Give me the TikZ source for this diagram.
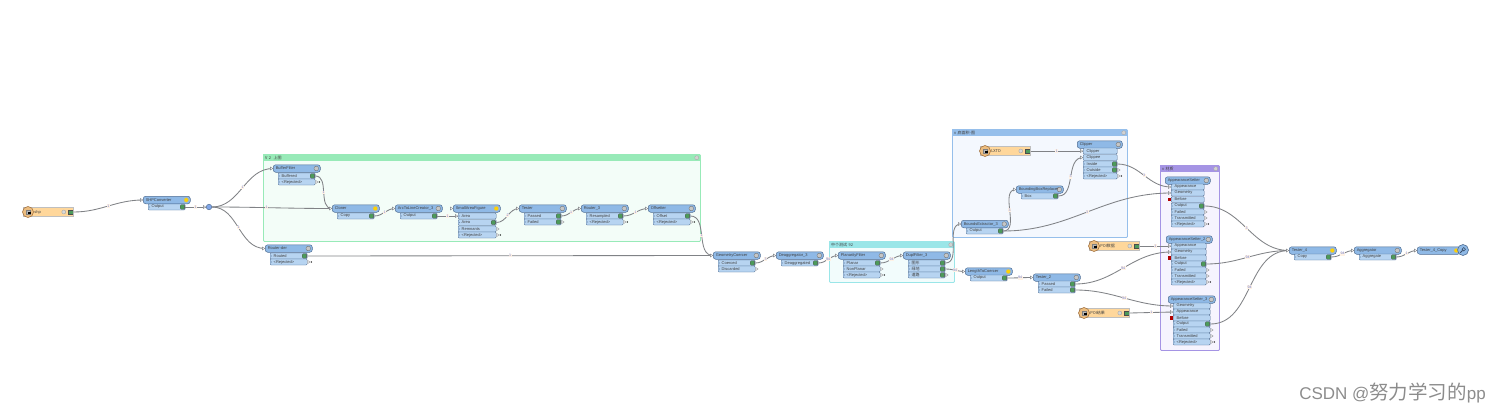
\documentclass[tikz,border=0pt]{standalone}
\usepackage{fontspec}
\setmainfont{Liberation Sans}
\newfontfamily\cjk{Noto Sans CJK SC}
\usetikzlibrary{positioning,calc}

\definecolor{headblue}{HTML}{8FB9E6}
\definecolor{rowblue}{HTML}{B7D4F1}
\definecolor{edgeblue}{HTML}{4F6D92}
\definecolor{readerfill}{HTML}{FFD79B}
\definecolor{wiregray}{HTML}{808286}
\definecolor{portgreen}{HTML}{4C9A5B}
\definecolor{countblue}{HTML}{6F80D0}
\definecolor{greenhd}{HTML}{98EAB8}
\definecolor{greenbg}{HTML}{F3FDF8}
\definecolor{bluehd}{HTML}{96BFEB}
\definecolor{bluebg}{HTML}{F4F8FE}
\definecolor{cyanhd}{HTML}{9AE6E8}
\definecolor{cyanbg}{HTML}{F2FCFC}
\definecolor{purplehd}{HTML}{A594E4}
\definecolor{purplebg}{HTML}{F6F4FE}

\begin{document}
\begin{tikzpicture}[
    x=1pt,
    y=-1pt,
    font=\fontsize{4}{4.5}\selectfont,
    text=black!75,
    head/.style={
        draw=edgeblue,
        fill=headblue,
        line width=0.5pt,
        rounded corners=2.5pt,
        anchor=west,
        minimum height=7.5pt,
        inner ysep=0pt,
        inner xsep=2.5pt,
        text width=42pt,
        align=left,
        path picture={
            \filldraw[draw=gray!80!black, fill=gray!45, line width=0.3pt]
                ([xshift=-4pt]path picture bounding box.east) circle (2.3pt);
        }
    },
    headwarn/.style={
        head,
        path picture={
            \filldraw[draw=gray!60, fill=yellow!70!orange, line width=0.3pt]
                ([xshift=-4pt]path picture bounding box.east) circle (2.3pt);
        }
    },
    port/.style={
        draw=edgeblue,
        fill=rowblue,
        line width=0.4pt,
        rounded corners=1pt,
        anchor=west,
        minimum height=6pt,
        inner ysep=0pt,
        inner xsep=3.5pt,
        text width=30pt,
        align=left,
        path picture={
            \fill[edgeblue] ([xshift=1pt,yshift=1pt]path picture bounding box.west)
                -- ++(1.5pt,-1pt) -- ++(-1.5pt,-1pt) -- cycle;
        }
    },
    inport/.style={port, path picture={}},
    outport/.style={
        port,
        path picture={
            \fill[edgeblue] ([xshift=1pt,yshift=1pt]path picture bounding box.west)
                -- ++(1.5pt,-1pt) -- ++(-1.5pt,-1pt) -- cycle;
            \filldraw[draw=black!70, fill=portgreen, line width=0.3pt]
                ([xshift=-5pt,yshift=-2.2pt]path picture bounding box.east)
                rectangle ++(4.4pt,4.4pt);
        }
    },
    reader/.style={
        draw=gray!50,
        fill=readerfill,
        line width=0.6pt,
        anchor=west,
        minimum height=8.5pt,
        inner sep=0pt,
        text width=50pt,
        align=left,
        execute at begin node=\hspace*{11pt},
        path picture={
            \filldraw[draw=gray!80, fill=gray!30, line width=0.3pt]
                ([xshift=-9.5pt]path picture bounding box.east) circle (2pt);
            \filldraw[draw=black!70, fill=portgreen, line width=0.3pt]
                ([xshift=-5pt,yshift=-2.2pt]path picture bounding box.east)
                rectangle ++(4.4pt,4.4pt);
        }
    },
    readericon/.style={
        circle,
        draw=brown!80!black,
        fill=readerfill!70!brown,
        line width=0.5pt,
        minimum size=11pt,
        inner sep=0pt,
        path picture={
            \filldraw[draw=black!50, fill=gray!55, line width=0.2pt]
                ([xshift=-2.4pt,yshift=-2.4pt]path picture bounding box.center)
                rectangle ++(4.8pt,4.8pt);
            \fill[black] ([yshift=-2.4pt]path picture bounding box.center)
                rectangle ++(2.6pt,2pt);
        }
    },
    junction/.style={
        circle,
        draw=edgeblue,
        fill=headblue!90!blue,
        line width=0.5pt,
        minimum size=5.5pt,
        inner sep=0pt
    },
    inspectmag/.style={
        circle,
        draw=edgeblue,
        fill=headblue,
        line width=0.6pt,
        minimum size=11pt,
        inner sep=0pt,
        path picture={
            \draw[edgeblue!70!black, line width=0.6pt]
                ([xshift=0.8pt,yshift=0.8pt]path picture bounding box.center) circle (1.7pt);
            \draw[edgeblue!70!black, line width=0.9pt]
                ([xshift=-0.4pt,yshift=-0.4pt]path picture bounding box.center) -- ++(-2.3pt,-2.3pt);
        }
    },
    grpbody/.style={
        draw=#1hd,
        fill=#1bg,
        line width=0.9pt,
        rounded corners=1pt,
        anchor=north west,
        inner sep=0pt
    },
    grphead/.style={
        fill=#1hd,
        anchor=north west,
        inner ysep=0pt,
        inner xsep=2pt,
        minimum height=7pt,
        align=left,
        path picture={
            \filldraw[draw=gray!70, fill=gray!35, line width=0.3pt]
                ([xshift=-3.5pt]path picture bounding box.east) circle (2pt);
        }
    },
    wire/.style={draw=wiregray, line width=0.85pt},
    cnt/.style={
        font=\fontsize{3.6}{4}\selectfont,
        text=countblue,
        fill=orange!10,
        inner sep=0.5pt
    },
    stub/.style={draw=wiregray, fill=white, line width=0.35pt},
    watermark/.style={
        anchor=east,
        text=black!45,
        inner sep=0pt,
        font=\fontsize{17}{19}\selectfont
    }
]

\useasboundingbox (0,0) rectangle (1501,412);

% bookmarks
\node[grpbody=green, minimum width=437pt, minimum height=87pt] (grpV) at (263,154) {};
\node[grphead=green, text width=433pt, minimum width=437pt] (grpVhd) at (263,154) {{\cjk V 2 \ 上图}};
\node[grpbody=blue, minimum width=175pt, minimum height=108pt] (grpArea) at (952,129) {};
\node[grphead=blue, text width=171pt, minimum width=175pt] (grpAreahd) at (952,129) {{\cjk v 底面积-图}};
\node[grpbody=cyan, minimum width=125pt, minimum height=41pt] (grpTest) at (829,241) {};
\node[grphead=cyan, text width=121pt, minimum width=125pt] (grpTesthd) at (829,241) {{\cjk 中个测试 92}};
\node[grpbody=purple, minimum width=59pt, minimum height=185pt] (grpMat) at (1160,165) {};
\node[grphead=purple, text width=55pt, minimum width=59pt] (grpMathd) at (1160,165) {{\cjk v 材质}};

% left part
\node[reader] (shp) at (23,212) {shp};
\node[readericon] (shpIcon) at (28,212) {};
\node[headwarn] (conv) at (143,200) {SHPConverter};
\node[outport] (convOut) at (148,207) {Output};
\node[junction] (junc) at (209,207) {};

\node[head] (buf) at (273,168.5) {BufferFilter};
\node[outport] (bufA) at (278,176) {Buffered};
\node[port] (bufB) at (278,182) {<Rejected>};
\node[head] (rout) at (265,248.5) {Router-der};
\node[outport] (routA) at (270,256) {Routed};
\node[port] (routB) at (270,262) {<Rejected>};

\node[headwarn] (clip) at (332,208.5) {Cloner};
\node[outport] (clipA) at (337,216) {Copy};
\node[head] (hull) at (395,208.5) {ArcToLineCreator\_3};
\node[outport] (hullA) at (400,216) {Output};
\node[headwarn] (small) at (453,208.5) {SmallAreaFigure};
\node[port, text width=31pt] (smallIn) at (458,216) {Area};
\node[outport, text width=31pt] (smallA) at (458,222.5) {Area};
\node[port, text width=31pt] (smallB) at (458,229) {Remnants};
\node[port, text width=31pt] (smallC) at (458,235) {<Rejected>};
\node[head] (test) at (519,208.5) {Tester};
\node[outport] (testA) at (524,216) {Passed};
\node[outport] (testB) at (524,222) {Failed};
\node[head] (rast) at (581,208.5) {Router\_3};
\node[outport] (rastA) at (586,216) {Resampled};
\node[port] (rastB) at (586,222) {<Rejected>};
\node[head] (off) at (648,208.5) {Offsetter};
\node[outport] (offA) at (653,216) {Offset};
\node[port] (offB) at (653,222) {<Rejected>};

% middle part
\node[head] (coer) at (713,255.5) {GeometryCoercer};
\node[outport] (coerA) at (718,263) {Coerced};
\node[port] (coerB) at (718,269) {Discarded};
\node[head] (deag) at (776,255.5) {Deaggregator\_3};
\node[outport] (deagA) at (781,263) {Deaggregated};
\node[head] (plan) at (838,255.5) {PlanarityFilter};
\node[outport] (planA) at (843,263) {Planar};
\node[port] (planB) at (843,269) {NonPlanar};
\node[port] (planC) at (843,275) {<Rejected>};
\node[head] (dupl) at (903,255.5) {DuplFilter\_3};
\node[outport] (duplA) at (908,263) {{\cjk 图形}};
\node[outport] (duplB) at (908,269) {{\cjk 绿地}};
\node[outport] (duplC) at (908,275) {{\cjk 道路}};

\node[head] (bnd) at (961,224) {BoundsExtractor\_3};
\node[outport] (bndA) at (966,231) {Output};
\node[head] (box) at (1016,189.5) {BoundingBoxReplacer};
\node[outport] (boxA) at (1021,196) {Box};
\node[reader] (lyr) at (980,151) {{\cjk LXTD}};
\node[readericon] (lyrIcon) at (985,151) {};
\node[head, text width=40pt] (clpr) at (1077,144.5) {Clipper};
\node[inport, text width=27pt] (clprA) at (1083,151) {Clipper};
\node[inport, text width=27pt] (clprB) at (1083,157.5) {Clippee};
\node[outport, text width=27pt] (clprC) at (1083,164) {Inside};
\node[outport, text width=27pt] (clprD) at (1083,170) {Outside};
\node[port, text width=27pt] (clprE) at (1083,176) {<Rejected>};

\node[headwarn] (len) at (965,271.5) {LengthToCoercer};
\node[outport] (lenA) at (970,278) {Output};
\node[head] (test2) at (1033,277.5) {Tester\_2};
\node[outport] (test2A) at (1038,284) {Passed};
\node[outport] (test2B) at (1038,290) {Failed};
\node[reader] (poiA) at (1089,246) {{\cjk POI数据}};
\node[readericon] (poiAIcon) at (1094,246) {};
\node[reader] (poiB) at (1079,313) {{\cjk POI结果}};
\node[readericon] (poiBIcon) at (1084,313) {};

% material group
\node[head, text width=40pt] (app1) at (1165,180.5) {AppearanceSetter};
\node[inport, text width=26pt] (app1A) at (1171,187) {Appearance};
\node[inport, text width=26pt] (app1B) at (1171,193) {Geometry};
\node[inport, text width=26pt] (app1C) at (1171,199.5) {Before};
\node[outport, text width=26pt] (app1D) at (1171,206) {Output};
\node[port, text width=26pt] (app1E) at (1171,212) {Failed};
\node[port, text width=26pt] (app1F) at (1171,218) {Transmitted};
\node[port, text width=26pt] (app1G) at (1171,224) {<Rejected>};

\node[head, text width=41pt] (app2) at (1166,239.5) {AppearanceSetter\_2};
\node[inport, text width=28pt] (app2A) at (1171,246) {Appearance};
\node[inport, text width=28pt] (app2B) at (1171,252) {Geometry};
\node[inport, text width=28pt] (app2C) at (1171,258) {Before};
\node[outport, text width=28pt] (app2D) at (1171,264) {Output};
\node[port, text width=28pt] (app2E) at (1171,270) {Failed};
\node[port, text width=28pt] (app2F) at (1171,276) {Transmitted};
\node[port, text width=28pt] (app2G) at (1171,282) {<Rejected>};

\node[head] (app3) at (1168,299.5) {AppearanceSetter\_3};
\node[inport] (app3A) at (1173,306) {Geometry};
\node[inport] (app3B) at (1173,312) {Appearance};
\node[inport] (app3C) at (1173,318) {Before};
\node[outport] (app3D) at (1173,324) {Output};
\node[port] (app3E) at (1173,330) {Failed};
\node[port] (app3F) at (1173,336) {Transmitted};
\node[port] (app3G) at (1173,342) {<Rejected>};

% right part
\node[headwarn] (test4) at (1289,250.5) {Tester\_4};
\node[outport] (test4A) at (1294,257) {Copy};
\node[head] (aggr) at (1354,250.5) {Aggregator};
\node[outport] (aggrA) at (1359,257) {Aggregate};
\node[headwarn, text width=38pt] (insp) at (1417,250.5) {Tester\_4\_Copy};
\node[inspectmag] (inspMag) at (1463,250) {};

\node[watermark] (mark) at (1486,393) {CSDN @{\fontsize{19.5}{20}\cjk 努力学习的}pp};

% connectors
\draw[wire] (shp.east) to[out=0,in=180] node[cnt] {1} (conv.west);
\draw[wire] (convOut.east) -- node[cnt] {1} (junc.west);
\draw[wire] (junc.east) to[out=0,in=180] node[cnt] {1} (buf.west);
\draw[wire] (junc.east) to[out=0,in=180] node[cnt, pos=0.45] {1} (clip.west);
\draw[wire] (junc.east) to[out=0,in=180] node[cnt] {1} (rout.west);
\draw[wire] (bufA.east) to[out=0,in=180] node[cnt] {1} (clip.west);
\draw[wire] (routA.east) -- node[cnt] {1} (coer.west);
\draw[wire] (clipA.east) to[out=0,in=180] node[cnt] {1} (hull.west);
\draw[wire] (hullA.east) -- node[cnt] {1} (smallIn.west);
\draw[wire] (smallA.east) to[out=0,in=180] node[cnt] {2} (test.west);
\draw[wire] (testA.east) to[out=0,in=180] node[cnt] {1} (rast.west);
\draw[wire] (rastA.east) to[out=0,in=180] node[cnt] {1} (off.west);
\draw[wire] (offA.east) to[out=0,in=180] node[cnt] {1} (coer.west);
\draw[wire] (coerA.east) to[out=0,in=180] node[cnt] {3} (deag.west);
\draw[wire] (deagA.east) to[out=0,in=180] node[cnt] {94} (plan.west);
\draw[wire] (planA.east) to[out=0,in=180] node[cnt] {94} (dupl.west);
\draw[wire] (duplA.east) to[out=0,in=180] (bnd.west);
\draw[wire] (duplB.east) to[out=0,in=180] node[cnt] {94} (len.west);
\draw[wire] (bndA.east) to[out=0,in=180] node[cnt] {3} (box.west);
\draw[wire] (bndA.east) to[out=0,in=180] node[cnt] {3} (app1B.west);
\draw[wire] (boxA.east) to[out=0,in=180] node[cnt] {3} (clprB.west);
\draw[wire] (lyr.east) -- node[cnt] {1} (clprA.west);
\draw[wire] (clprC.east) to[out=0,in=180] node[cnt] {3} (app1A.west);
\draw[wire] (lenA.east) to[out=0,in=180] node[cnt] {94} (test2.west);
\draw[wire] (test2A.east) to[out=0,in=180] node[cnt] {94} (app2B.west);
\draw[wire] (poiA.east) -- node[cnt] {1} (app2A.west);
\draw[wire] (test2B.east) to[out=0,in=180] node[cnt] {94} (app3A.west);
\draw[wire] (poiB.east) -- node[cnt] {1} (app3B.west);
\draw[wire] (app1D.east) to[out=0,in=180] node[cnt] {3} (test4.west);
\draw[wire] (app2D.east) to[out=0,in=180] node[cnt] {94} (test4.west);
\draw[wire] (app3D.east) to[out=0,in=180] node[cnt] {94} (test4.west);
\draw[wire] (test4A.east) to[out=0,in=180] node[cnt] {94} (aggr.west);
\draw[wire] (aggrA.east) to[out=0,in=180] node[cnt] {1} (insp.west);

% input and free output marks
\foreach \n in {conv,buf,rout,clip,hull,small,test,rast,off,coer,deag,plan,dupl,bnd,box,
    len,test2,test4,aggr,insp,clprA,clprB,app1A,app1B,app2A,app2B,app3A,app3B,smallIn,junc}
    \filldraw[stub] (\n.west) ++(-2.6,-1.5) -- ++(2.4,1.5) -- ++(-2.4,1.5) -- cycle;
\foreach \n in {bufB,routB,smallB,smallC,testB,rastB,offB,coerB,planB,planC,duplC,clprD,clprE,
    app1E,app1F,app1G,app2E,app2F,app2G,app3E,app3F,app3G}
    \filldraw[stub] (\n.east) ++(0.3,-1.5) -- ++(2.4,1.5) -- ++(-2.4,1.5) -- cycle;
\foreach \n in {bufB,routB,smallC,rastB,offB,planC,clprE,app1G,app2G,app3G}
    \fill[black] (\n.east) ++(4,0) circle (0.7);
\foreach \n in {app1C,app2C,app3C}
    \fill[red!70!black] (\n.west) ++(-3.2,-1.6) rectangle ++(3.2,3.2);

\end{tikzpicture}
\end{document}
